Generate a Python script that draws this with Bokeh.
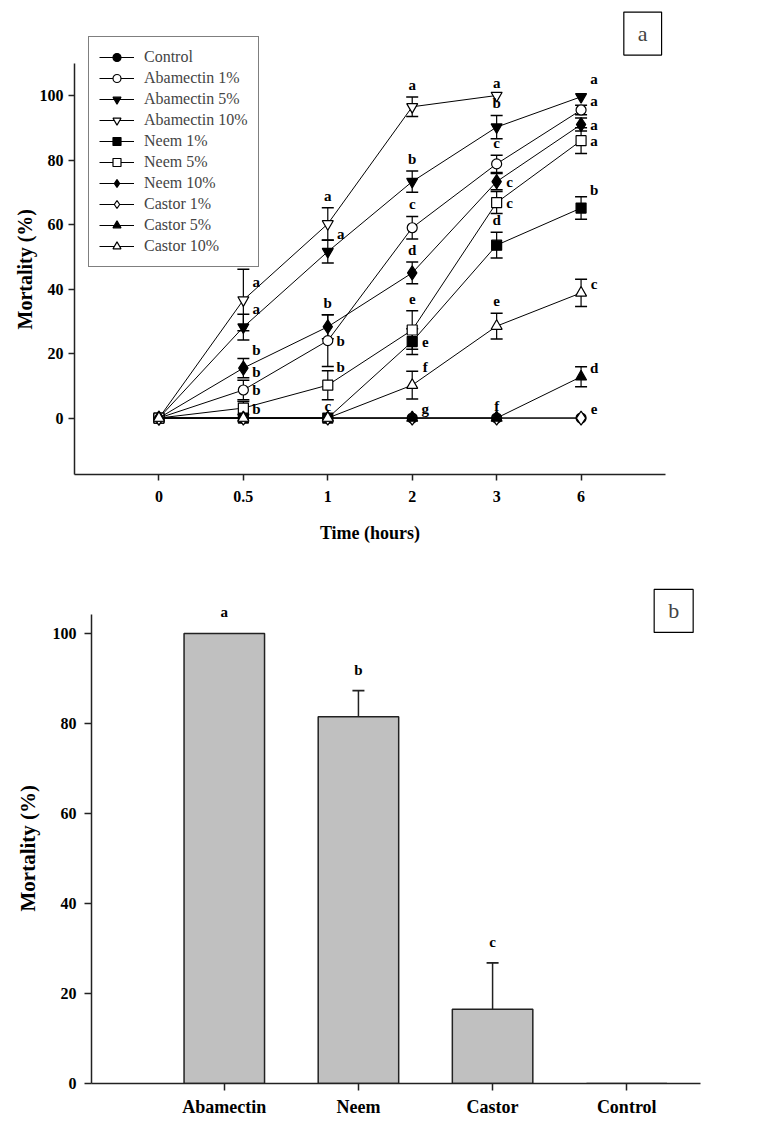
import numpy as np
from bokeh.plotting import figure
from bokeh.models import ColumnDataSource, Whisker, TeeHead, FixedTicker, Label, Title
from bokeh.embed import file_html
from bokeh.resources import INLINE
from bokeh.core.properties import value

# ---------------- data: panel a ----------------
times = ["0", "0.5", "1", "2", "3", "6"]

series_names = ["Control", "Abamectin 1%", "Abamectin 5%", "Abamectin 10%",
                "Neem 1%", "Neem 5%", "Neem 10%",
                "Castor 1%", "Castor 5%", "Castor 10%"]

control = [0, 0, 0, 0, 0, 0]
control_se = [0, 0, 0, 0, 0, 0]
abamectin_1 = [0, 8.7, 24.0, 59.0, 78.8, 95.5]
abamectin_1_se = [0, 3.0, 8.0, 3.5, 2.7, 1.5]
abamectin_5 = [0, 28.2, 51.6, 73.3, 90.2, 99.6]
abamectin_5_se = [0, 4.0, 3.5, 3.3, 3.6, 0]
abamectin_10 = [0, 36.6, 60.2, 96.5, 100.0, np.nan]
abamectin_10_se = [0, 9.5, 5.0, 3.0, 0, 0]
neem_1 = [0, 0, 0, 23.7, 53.6, 65.1]
neem_1_se = [0, 0, 0, 4.0, 4.0, 3.5]
neem_5 = [0, 3.1, 10.2, 27.3, 66.8, 86.0]
neem_5_se = [0, 2.0, 4.5, 6.0, 3.4, 4.0]
neem_10 = [0, 15.5, 28.3, 45.0, 73.3, 91.0]
neem_10_se = [0, 3.0, 3.7, 3.4, 2.5, 2.0]
castor_1 = [0, 0, 0, 0, 0, 0]
castor_1_se = [0, 0, 0, 0, 0, 0]
castor_5 = [0, 0, 0, 0, 0, 12.8]
castor_5_se = [0, 0, 0, 0, 0, 3.1]
castor_10 = [0, 0, 0, 10.2, 28.5, 38.8]
castor_10_se = [0, 0, 0, 4.3, 4.0, 4.2]

series_values = [control, abamectin_1, abamectin_5, abamectin_10, neem_1, neem_5,
                 neem_10, castor_1, castor_5, castor_10]
series_se = [control_se, abamectin_1_se, abamectin_5_se, abamectin_10_se, neem_1_se,
             neem_5_se, neem_10_se, castor_1_se, castor_5_se, castor_10_se]

# significance letters for each point
letters_a = [
    ["", "", "", "", "", ""],
    ["", "b", "b", "c", "c", "a"],
    ["", "a", "a", "b", "b", "a"],
    ["", "a", "a", "a", "a", ""],
    ["", "b", "c", "e", "d", "b"],
    ["", "b", "b", "e", "c", "a"],
    ["", "b", "b", "d", "c", "a"],
    ["", "", "", "", "", "e"],
    ["", "", "", "g", "f", "d"],
    ["", "", "", "f", "e", "c"],
]

# ---------------- data: panel b ----------------
treatments = ["Abamectin", "Neem", "Castor", "Control"]
mortality = [100.0, 81.5, 16.5, 0.0]
mortality_se = [0.0, 5.8, 10.3, 0.0]
letters_b = ["a", "b", "c", ""]

# ---------------- styles ----------------
marker_style = [("circle", True), ("circle", False), ("inverted_triangle", True),
                ("inverted_triangle", False), ("square", True), ("square", False),
                ("diamond", True), ("diamond", False), ("triangle", True),
                ("triangle", False)]
marker_size = {"circle": 10, "inverted_triangle": 11, "triangle": 11,
               "square": 10, "diamond": 14}

# label placement: a = above error cap, r0 = right, r = right & up, R = right & higher
place_a = [
    ["", "", "", "", "", ""],
    ["", "R", "r0", "a", "a", "r"],
    ["", "R", "R", "a", "a", "R"],
    ["", "R", "a", "a", "a", ""],
    ["", "r", "a", "r0", "a", "R"],
    ["", "R", "R", "a", "r0", "r0"],
    ["", "R", "a", "a", "r0", "r0"],
    ["", "", "", "", "", "r"],
    ["", "", "", "r", "a", "r"],
    ["", "", "", "R", "a", "r"],
]
offsets = {"a": (0, 12), "r0": (13, 0), "r": (13, 9), "R": (13, 18)}

SERIF = "Liberation Serif"
AXIS_COLOR = "#222222"


def style_axis(ax, tick_out):
    ax.axis_line_color = AXIS_COLOR
    ax.axis_line_width = 1.5
    ax.major_tick_line_color = AXIS_COLOR
    ax.major_tick_line_width = 1.5
    ax.major_tick_out = tick_out
    ax.major_tick_in = 0
    ax.minor_tick_line_color = None
    ax.major_label_text_font = SERIF
    ax.major_label_text_font_style = "bold"
    ax.major_label_text_font_size = "16px"
    ax.major_label_text_color = "black"
    ax.axis_label_text_font = SERIF
    ax.axis_label_text_font_style = "bold"
    ax.axis_label_text_color = "black"


# ---------------- panel a ----------------
p1 = figure(width=762, height=560, x_range=(-1, 6), y_range=(-17.5, 127.9),
            output_backend="svg", toolbar_location=None,
            min_border_left=74, min_border_right=97, min_border_top=5,
            min_border_bottom=86)
p1.outline_line_color = None
p1.xgrid.visible = False
p1.ygrid.visible = False

idx = list(range(len(times)))

for k, name in enumerate(series_names):
    vals = series_values[k]
    se = series_se[k]
    mk, filled = marker_style[k]
    fill = "black" if filled else "white"
    src = ColumnDataSource(dict(x=idx, y=vals))
    p1.line("x", "y", source=src, line_color="black", line_width=1, legend_label=name)
    wx, up, lo = [], [], []
    for i in idx:
        if se[i] > 0 and not np.isnan(vals[i]):
            wx.append(i)
            up.append(vals[i] + se[i])
            lo.append(vals[i] - se[i])
    if wx:
        wsrc = ColumnDataSource(dict(x=wx, upper=up, lower=lo))
        w = Whisker(base="x", upper="upper", lower="lower", source=wsrc,
                    dimension="height", line_color="black", line_width=1.2,
                    upper_head=TeeHead(size=12, line_color="black", line_width=1.5),
                    lower_head=TeeHead(size=12, line_color="black", line_width=1.5),
                    level="underlay")
        p1.add_layout(w)
    p1.scatter("x", "y", source=src, marker=mk, size=marker_size[mk],
               fill_color=fill, line_color="black", line_width=1.2,
               legend_label=name)

lx, ly, lt, lxo, lyo = [], [], [], [], []
for k in range(len(series_names)):
    for i in idx:
        t = letters_a[k][i]
        if not t:
            continue
        v = series_values[k][i]
        code = place_a[k][i]
        dx, dy = offsets[code]
        yy = v + series_se[k][i] if code == "a" else v
        lx.append(i)
        ly.append(yy)
        lt.append(t)
        lxo.append(dx)
        lyo.append(-dy)
lsrc = ColumnDataSource(dict(x=lx, y=ly, text=lt, xo=lxo, yo=lyo))
p1.text("x", "y", text="text", source=lsrc, x_offset="xo", y_offset="yo",
        text_align="center", text_baseline="middle",
        text_font=value(SERIF), text_font_style="bold", text_font_size="15px",
        text_color="black")

style_axis(p1.xaxis[0], 6)
style_axis(p1.yaxis[0], 6)

p1.xaxis.ticker = FixedTicker(ticks=idx)
p1.xaxis.major_label_overrides = {i: t for i, t in enumerate(times)}
p1.xaxis.axis_label = "Time (hours)"
p1.xaxis.axis_label_text_font_size = "18px"
p1.xaxis.major_label_standoff = 10
p1.xaxis.axis_label_standoff = 18
p1.yaxis.ticker = FixedTicker(ticks=[0, 20, 40, 60, 80, 100])
p1.yaxis.bounds = (-17.5, 110)
p1.yaxis.major_label_standoff = 5

p1.add_layout(Title(text="Mortality (%)", align="left", offset=145, standoff=2,
                    text_font=SERIF, text_font_style="bold", text_font_size="20px",
                    text_color="black"), "left")

leg = p1.legend[0]
leg.location = (14, 207)
leg.border_line_color = "black"
leg.border_line_width = 1.2
leg.background_fill_alpha = 1
leg.label_text_font = SERIF
leg.label_text_font_size = "16px"
leg.glyph_width = 35
leg.glyph_height = 20
leg.label_height = 20
leg.spacing = 1
leg.padding = 10
leg.margin = 0
leg.label_standoff = 10

p1.add_layout(Label(x=5.73, y=119.2, text="a", text_align="center",
                    text_baseline="middle", text_font=SERIF, text_font_size="22px",
                    border_line_color="black", border_line_width=1.2,
                    background_fill_color="white", padding=(14, 9)))

# ---------------- panel b ----------------
p2 = figure(width=762, height=562, x_range=(-0.99, 3.55), y_range=(0, 115.1),
            output_backend="svg", toolbar_location=None,
            min_border_left=91, min_border_right=62, min_border_top=5,
            min_border_bottom=39)
p2.outline_line_color = None
p2.xgrid.visible = False
p2.ygrid.visible = False

bidx = list(range(len(treatments)))
bsrc = ColumnDataSource(dict(x=bidx, top=mortality))
p2.vbar(x="x", top="top", width=0.6, source=bsrc, fill_color="#c0c0c0",
        line_color="#222222", line_width=1.5)

wx = [i for i in bidx if mortality_se[i] > 0]
wsrc2 = ColumnDataSource(dict(x=wx, upper=[mortality[i] + mortality_se[i] for i in wx],
                              lower=[mortality[i] for i in wx]))
p2.add_layout(Whisker(base="x", upper="upper", lower="lower", source=wsrc2,
                      dimension="height", line_color="#222222", line_width=1.5,
                      upper_head=TeeHead(size=12, line_color="#222222", line_width=1.8),
                      lower_head=None, level="underlay"))

bl = [i for i in bidx if letters_b[i]]
blsrc = ColumnDataSource(dict(x=bl, y=[mortality[i] + mortality_se[i] for i in bl],
                              text=[letters_b[i] for i in bl]))
p2.text("x", "y", text="text", source=blsrc, y_offset=-21, text_align="center",
        text_baseline="middle", text_font=value(SERIF), text_font_style="bold",
        text_font_size="15px", text_color="black")

style_axis(p2.xaxis[0], 7)
style_axis(p2.yaxis[0], 7)

p2.xaxis.ticker = FixedTicker(ticks=bidx)
p2.xaxis.major_label_overrides = {i: t for i, t in enumerate(treatments)}
p2.xaxis.major_label_text_font_size = "18px"
p2.xaxis.major_label_standoff = 6
p2.yaxis.ticker = FixedTicker(ticks=[0, 20, 40, 60, 80, 100])
p2.yaxis.bounds = (0, 104.2)
p2.yaxis.major_label_standoff = 8

p2.add_layout(Title(text="Mortality (%)", align="left", offset=172, standoff=20,
                    text_font=SERIF, text_font_style="bold", text_font_size="21px",
                    text_color="black"), "left")

p2.add_layout(Label(x=3.35, y=105.0, text="b", text_align="center",
                    text_baseline="middle", text_font=SERIF, text_font_size="22px",
                    border_line_color="black", border_line_width=1.2,
                    background_fill_color="white", padding=(14, 9)))

open("out.html", "w").write(file_html([p1, p2], INLINE))
